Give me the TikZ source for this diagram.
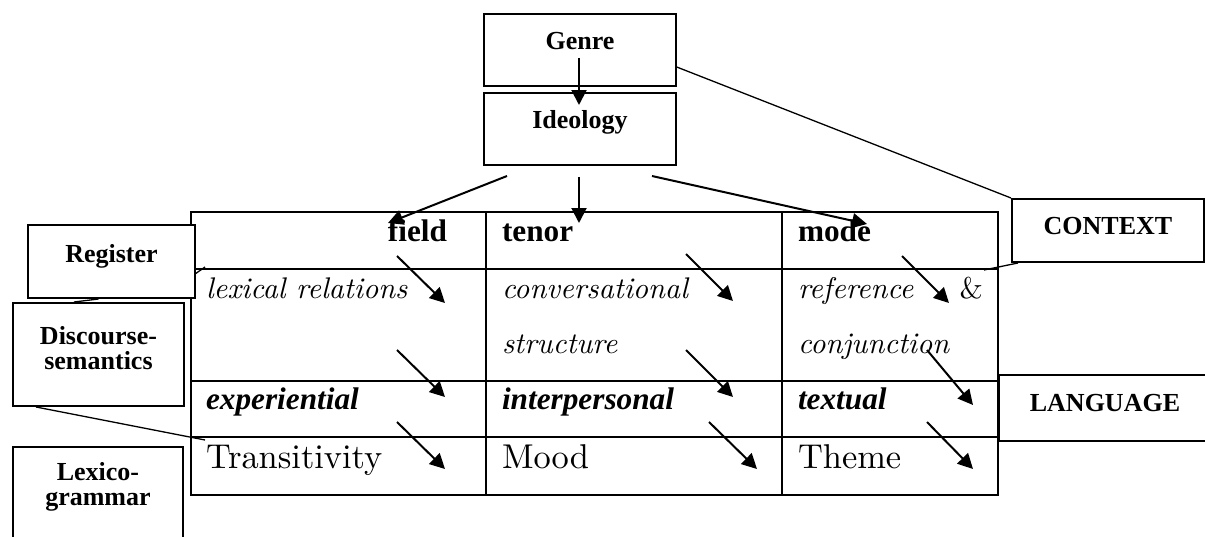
\documentclass[tikz,border=0pt]{standalone}
\usepackage{fontspec}
\newfontfamily\timesfont{Liberation Serif}
\newfontfamily\cmfont{lmroman10-regular}[Extension=.otf,ItalicFont=lmroman10-italic]
\usepackage{tikz}
\usetikzlibrary{positioning}
\usetikzlibrary{arrows,arrows.meta}
\tikzset{edge/.style = {-{Triangle[length=0.3cm,width=0.3cm]}}}

\begin{document}
\begin{tikzpicture}[x=0.02cm,y=-0.02cm,line width=0.04cm,
    box/.style={draw,fill=white,inner sep=0pt,anchor=north west,align=center,font=\timesfont\bfseries\fontsize{14.8}{14.2}\selectfont},
    head/.style={inner sep=0pt,font=\timesfont\bfseries\fontsize{17.8}{20}\selectfont},
    meta/.style={inner sep=0pt,anchor=base west,font=\timesfont\bfseries\itshape\fontsize{17.8}{20}\selectfont},
    rel/.style={inner sep=0pt,anchor=base west,align=left,font=\cmfont\itshape\fontsize{17}{31.8}\selectfont},
    sys/.style={inner sep=0pt,anchor=base west,font=\cmfont\fontsize{19.6}{22}\selectfont},
    link/.style={line width=0.026cm}]
    \useasboundingbox (0,0) rectangle (1205,537);

    % the table
    \draw (191,212) rectangle (998,495);
    \draw (191,269) -- (998,269);
    \draw (191,381) -- (998,381);
    \draw (191,437) -- (998,437);
    \draw (486,212) -- (486,495);
    \draw (782,212) -- (782,495);

    \node[head,anchor=base east] (field) at (448,242) {field};
    \node[head,anchor=base west] (tenor) at (501,242) {tenor};
    \node[head,anchor=base west] (mode) at (797,242) {mode};

    \node[rel] (lexrel) at (205,298) {lexical relations};
    \node[rel,text width=4cm] (convstr) at (501,298) {conversational\\structure};
    \node[rel,text width=3.7cm] (refconj) at (797,298) {reference\hfill{\upshape\&}\\conjunction};

    \node[meta] (exper) at (205,409) {experiential};
    \node[meta] (interp) at (501,409) {interpersonal};
    \node[meta] (textual) at (797,409) {textual};

    \node[sys] (trans) at (205,468) {Transitivity};
    \node[sys] (mood) at (501,468) {Mood};
    \node[sys] (theme) at (797,468) {Theme};

    % the strata
    \node[box,text width=3.84cm,text height=0.72cm,text depth=0.72cm] (genre) at (483,13) {Genre};
    \node[box,text width=3.84cm,text height=0.714cm,text depth=0.726cm] (ideology) at (483,92) {Ideology};
    \node[box,text width=3.84cm,text height=0.72cm,text depth=0.54cm] (context) at (1011,198) {CONTEXT};
    \node[box,text width=4.24cm,text height=0.734cm,text depth=0.586cm] (language) at (998,374) {LANGUAGE};
    \node[box,text width=3.34cm,text height=0.754cm,text depth=0.706cm] (register) at (27,224) {Register};
    \node[box,text width=3.42cm,text height=0.84cm,text depth=1.22cm] (discourse) at (12,302) {Discourse-\\semantics};
    \node[box,text width=3.4cm,text height=0.68cm,text depth=1.72cm] (lexgram) at (12,446) {Lexico-\\grammar};

    % arrows
    \coordinate (g1) at (579,58);
    \coordinate (g2) at (579,105);
    \draw[edge] (g1) -- (g2);
    \coordinate (i1) at (507,176);
    \coordinate (i2) at (579,177);
    \coordinate (i3) at (652,176);
    \coordinate (f1) at (388,223);
    \coordinate (t1) at (579,223);
    \coordinate (m1) at (867,224);
    \draw[edge] (i1) -- (f1);
    \draw[edge] (i2) -- (t1);
    \draw[edge] (i3) -- (m1);

    \foreach \sx/\sy/\ex/\ey in {397/256/445/303, 397/350/445/397, 397/422/445/469,
                                 686/254/733/301, 686/350/733/397, 709/422/757/469,
                                 902/256/949/303, 927/350/973/405, 927/422/973/469}
        \draw[edge] (\sx,\sy) -- (\ex,\ey);

    % links
    \coordinate (c1) at (984,270);
    \coordinate (d1) at (205,440);
    \coordinate (r1) at (205,267);
    \draw[link] (genre.-10.6) -- (context.north west);
    \draw[link] ([xshift=0.14cm]context.south west) -- (c1);
    \draw[link] (register.251) -- (discourse.115);
    \draw[link] (discourse.220) -- (d1);
    \draw[link] (register.-8) -- (r1);
\end{tikzpicture}
\end{document}
